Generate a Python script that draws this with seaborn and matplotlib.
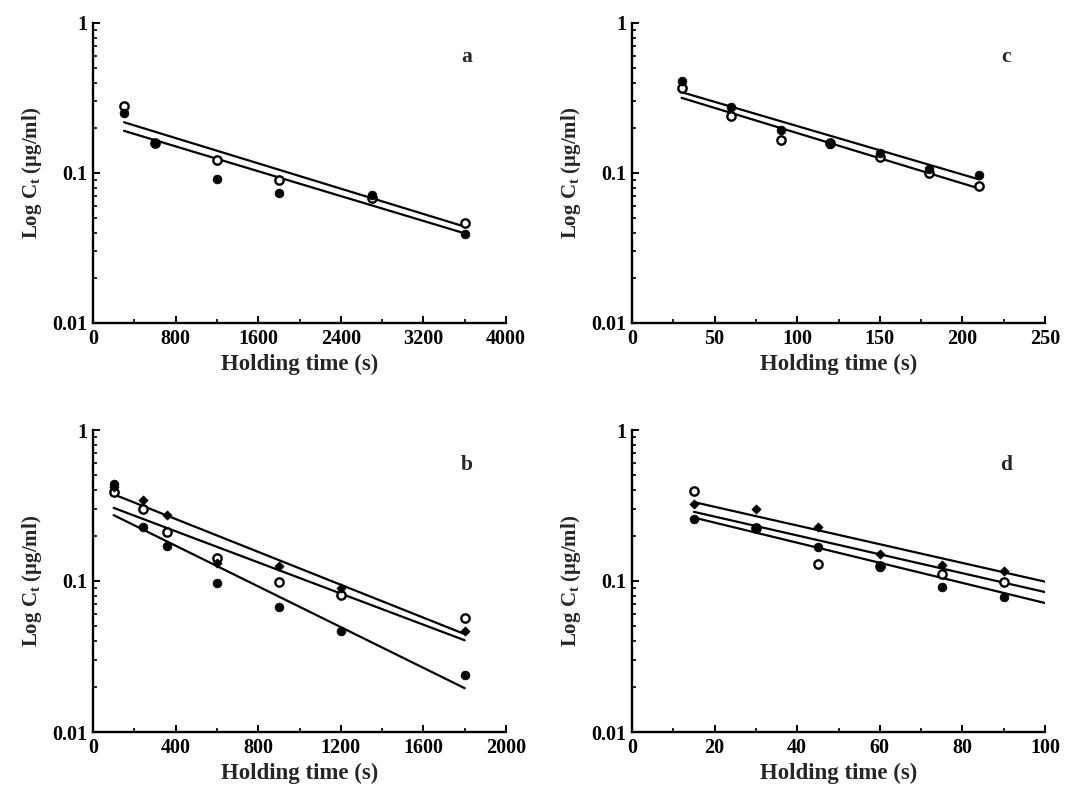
import numpy as np
import pandas as pd
import matplotlib
matplotlib.use("Agg")
import matplotlib.pyplot as plt
import seaborn as sns
from matplotlib.ticker import LogLocator, FixedLocator, NullFormatter, FuncFormatter, MultipleLocator

# ---------------- data ----------------
# Panel a
a_time = [300, 600, 1200, 1800, 2700, 3600]
a_open = [0.28, 0.159, 0.122, 0.090, 0.068, 0.0466]
a_filled = [0.252, 0.159, 0.0916, 0.074, 0.0713, 0.0394]
a_fit_x = [300, 3600]
a_fit_open = [0.218, 0.0439]
a_fit_filled = [0.191, 0.0396]

# Panel b
b_time = [100, 240, 360, 600, 900, 1200, 1800]
b_diamond = [0.418, 0.342, 0.275, 0.132, 0.125, 0.0904, 0.047]
b_open = [0.387, 0.301, 0.21, 0.141, 0.099, 0.0812, 0.0568]
b_filled = [0.438, 0.229, 0.171, 0.0966, 0.0676, 0.0465, 0.024]
b_fit_x = [100, 1800]
b_fit_diamond = [0.375, 0.0445]
b_fit_open = [0.305, 0.0405]
b_fit_filled = [0.273, 0.0195]

# Panel c
c_time = [30, 60, 90, 120, 150, 180, 210]
c_open = [0.37, 0.241, 0.165, 0.158, 0.128, 0.100, 0.0818]
c_filled = [0.41, 0.276, 0.194, 0.157, 0.136, 0.107, 0.097]
c_fit_x = [30, 210]
c_fit_filled = [0.346, 0.0907]
c_fit_open = [0.317, 0.0789]

# Panel d
d_time = [15, 30, 45, 60, 75, 90]
d_diamond = [0.322, 0.299, 0.229, 0.152, 0.128, 0.116]
d_open = [0.397, 0.226, 0.13, 0.125, 0.111, 0.0985]
d_filled = [0.259, 0.225, 0.167, 0.124, 0.0914, 0.0778]
d_fit_x = [15, 100]
d_fit_diamond = [0.333, 0.099]
d_fit_open = [0.287, 0.0845]
d_fit_filled = [0.263, 0.0715]

panel_letters = ["a", "b", "c", "d"]
x_limits = {"a": (0, 4000), "b": (0, 2000), "c": (0, 250), "d": (0, 100)}
x_major = {"a": 800, "b": 400, "c": 50, "d": 20}
xlabel = "Holding time (s)"
ylabel = r"Log C$_\mathbf{t}$ (μg/ml)"

# ---------------- style ----------------
sns.set_style("ticks")
plt.rcParams["font.family"] = ["Liberation Serif", "DejaVu Serif"]
plt.rcParams["font.weight"] = "bold"
plt.rcParams["axes.labelweight"] = "bold"
plt.rcParams["mathtext.fontset"] = "custom"
plt.rcParams["mathtext.rm"] = "Liberation Serif:bold"
plt.rcParams["mathtext.bf"] = "Liberation Serif:bold"
plt.rcParams["mathtext.it"] = "Liberation Serif:bold:italic"

fig = plt.figure(figsize=(10.7, 7.94), dpi=100)
W, H = 1070, 794
def rect(l, t, r, b):
    return [l / W, 1 - b / H, (r - l) / W, (b - t) / H]

axes = {
    "a": fig.add_axes(rect(93, 23, 506, 323)),
    "c": fig.add_axes(rect(632, 23, 1045, 323)),
    "b": fig.add_axes(rect(93, 430, 506, 732)),
    "d": fig.add_axes(rect(632, 430, 1045, 732)),
}

LW = 1.6
def draw_line(ax, xs, ys):
    sns.lineplot(x=xs, y=ys, ax=ax, color="black", lw=LW, zorder=2, legend=False)

def draw_pts(ax, xs, ys, kind, z):
    if kind == "filled":
        sns.scatterplot(x=xs, y=ys, ax=ax, marker="o", s=40, color="black",
                        edgecolor="black", linewidth=0.5, zorder=z, legend=False)
    elif kind == "open":
        sns.scatterplot(x=xs, y=ys, ax=ax, marker="o", s=36, color="white",
                        edgecolor="black", linewidth=1.7, zorder=z, legend=False)
    else:
        sns.scatterplot(x=xs, y=ys, ax=ax, marker="D", s=22, color="black",
                        edgecolor="black", linewidth=0.5, zorder=z, legend=False)

# Panel a
ax = axes["a"]
draw_line(ax, a_fit_x, a_fit_open)
draw_line(ax, a_fit_x, a_fit_filled)
draw_pts(ax, a_time, a_open, "open", 3)
draw_pts(ax, a_time, a_filled, "filled", 4)

# Panel b
ax = axes["b"]
draw_line(ax, b_fit_x, b_fit_diamond)
draw_line(ax, b_fit_x, b_fit_open)
draw_line(ax, b_fit_x, b_fit_filled)
draw_pts(ax, b_time, b_filled, "filled", 3)
draw_pts(ax, b_time, b_open, "open", 4)
draw_pts(ax, b_time, b_diamond, "diamond", 5)

# Panel c
ax = axes["c"]
draw_line(ax, c_fit_x, c_fit_filled)
draw_line(ax, c_fit_x, c_fit_open)
draw_pts(ax, c_time, c_open, "open", 3)
draw_pts(ax, c_time, c_filled, "filled", 4)

# Panel d
ax = axes["d"]
draw_line(ax, d_fit_x, d_fit_diamond)
draw_line(ax, d_fit_x, d_fit_open)
draw_line(ax, d_fit_x, d_fit_filled)
draw_pts(ax, d_time, d_open, "open", 3)
draw_pts(ax, d_time, d_filled, "filled", 4)
draw_pts(ax, d_time, d_diamond, "diamond", 5)

def yfmt(v, pos):
    return {0.01: "0.01", 0.1: "0.1", 1.0: "1"}.get(round(v, 4), "")

for key, ax in axes.items():
    ax.set_yscale("log")
    ax.set_ylim(0.01, 1)
    ax.set_xlim(*x_limits[key])
    ax.xaxis.set_major_locator(MultipleLocator(x_major[key]))
    ax.xaxis.set_minor_locator(MultipleLocator(x_major[key] / 2))
    ax.yaxis.set_major_locator(FixedLocator([0.01, 0.1, 1]))
    ax.yaxis.set_major_formatter(FuncFormatter(yfmt))
    ax.yaxis.set_minor_locator(LogLocator(base=10, subs=np.arange(2, 10)))
    ax.yaxis.set_minor_formatter(NullFormatter())
    for s in ["top", "right"]:
        ax.spines[s].set_visible(False)
    for s in ["left", "bottom"]:
        ax.spines[s].set_linewidth(1.7)
        ax.spines[s].set_color("black")
    ax.tick_params(which="major", direction="in", length=5, width=1.4,
                   labelsize=14.5, pad=4, colors="black")
    ax.tick_params(which="minor", direction="in", length=3, width=1.2, colors="black")
    for lab in ax.get_xticklabels() + ax.get_yticklabels():
        lab.set_fontweight("bold")
    ax.set_xlabel(xlabel, fontsize=16.5, fontweight="bold", labelpad=4)
    ax.set_ylabel(ylabel, fontsize=15, fontweight="bold", labelpad=6)
    ax.text(0.905, 0.885, key, transform=ax.transAxes, fontsize=15.5,
            fontweight="bold", ha="center", va="center")
    ax.set_facecolor("white")

fig.savefig("out.png", dpi=100, facecolor="white")
